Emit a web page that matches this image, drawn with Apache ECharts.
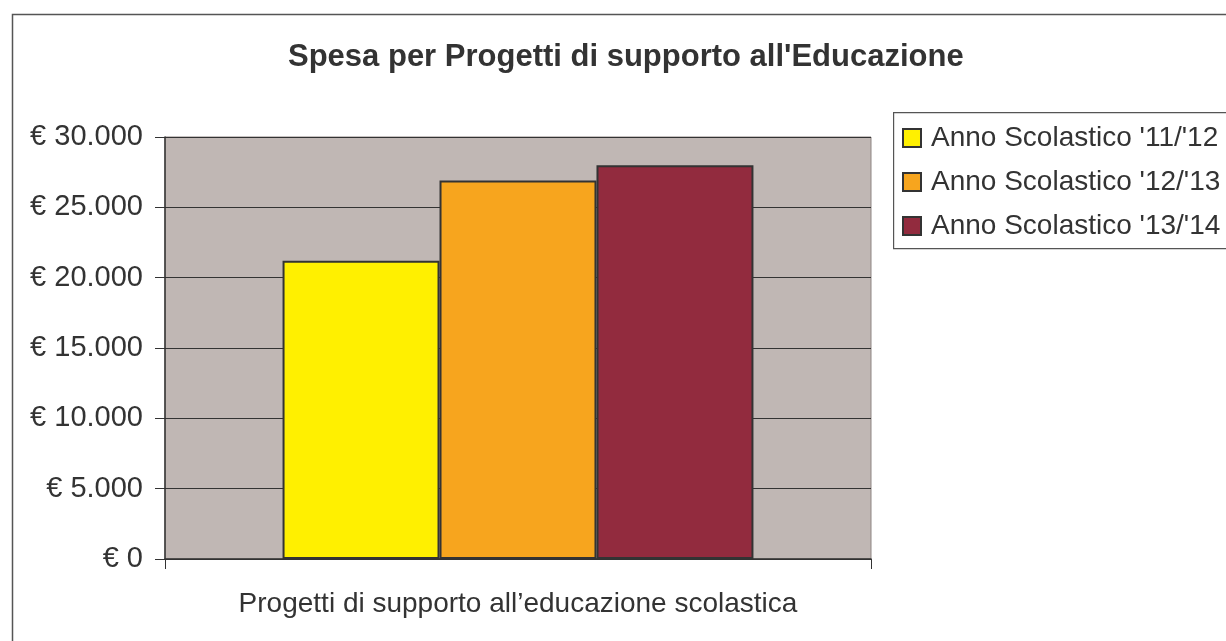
<!DOCTYPE html>
<html>
<head>
<meta charset="utf-8">
<script src="https://cdn.jsdelivr.net/npm/echarts@6/dist/echarts.min.js"></script>
<style>
  html, body { margin: 0; padding: 0; background: #ffffff; }
  #chart { width: 1226px; height: 641px; }
</style>
</head>
<body>
<div id="chart"></div>
<script>
// Spending on educational support projects, by school year
const categories = ['Progetti di supporto all\u2019educazione scolastica'];
const seriesNames = ["Anno Scolastico '11/'12", "Anno Scolastico '12/'13", "Anno Scolastico '13/'14"];
const spesa1112 = [21200];
const spesa1213 = [26900];
const spesa1314 = [28000];
const colors = ['#FFF000', '#F7A51E', '#922B3E'];

const FONT = '"Liberation Sans", Arial, Helvetica, sans-serif';
const TEXT = '#333333';

const fmtEuro = v => '\u20AC ' + String(v).replace(/\B(?=(\d{3})+(?!\d))/g, '.');

const chart = echarts.init(document.getElementById('chart'), null, { renderer: 'canvas' });

const valuesBySeries = [spesa1112, spesa1213, spesa1314];

chart.setOption({
  animation: false,
  backgroundColor: '#ffffff',
  textStyle: { fontFamily: FONT, color: TEXT },
  title: {
    text: "Spesa per Progetti di supporto all'Educazione",
    left: 283,
    top: 37,
    textStyle: { fontFamily: FONT, fontSize: 31, fontWeight: 'bold', color: TEXT }
  },
  graphic: [{
    // outer chart frame, running past the right and bottom edges
    type: 'rect',
    left: 10, top: 12,
    shape: { width: 1400, height: 800 },
    style: { fill: 'none', stroke: '#555555', lineWidth: 1.5 },
    silent: true,
    z: -10
  }, {
    // legend frame, open past the right edge
    type: 'rect',
    left: 893, top: 112,
    shape: { width: 400, height: 136 },
    style: { fill: '#ffffff', stroke: '#555555', lineWidth: 1.2 },
    silent: true,
    z: 0
  }],
  legend: {
    orient: 'vertical',
    left: 893,
    top: 112,
    padding: [12, 10, 8, 9],
    itemWidth: 18,
    itemHeight: 18,
    itemGap: 16,
    borderWidth: 0,
    icon: 'rect',
    textStyle: { fontFamily: FONT, fontSize: 28, color: TEXT, padding: [0, 0, 0, 5] },
    data: seriesNames
  },
  grid: {
    left: 165, top: 137, right: 355, bottom: 82,
    show: true,
    backgroundColor: '#C0B7B4',
    borderColor: '#8E8583',
    borderWidth: 1
  },
  xAxis: {
    type: 'category',
    data: categories,
    axisLine: { lineStyle: { color: '#333333', width: 1.5 } },
    axisTick: { show: true, length: 10, lineStyle: { color: '#333333' } },
    axisLabel: { fontFamily: FONT, fontSize: 28, color: TEXT, margin: 31 }
  },
  yAxis: {
    type: 'value',
    min: 0, max: 30000, interval: 5000,
    axisLine: { show: true, lineStyle: { color: '#333333', width: 1.5 } },
    axisTick: { show: true, length: 10, lineStyle: { color: '#333333' } },
    axisLabel: { fontFamily: FONT, fontSize: 29, color: TEXT, margin: 22, formatter: fmtEuro },
    splitLine: { show: true, lineStyle: { color: '#333333', width: 1 } }
  },
  series: seriesNames.map((name, i) => ({
    name,
    type: 'bar',
    data: valuesBySeries[i],
    barGap: '0%',
    barCategoryGap: '33.3%',
    itemStyle: { color: colors[i], borderColor: '#333333', borderWidth: 2 }
  }))
});
</script>
</body>
</html>
